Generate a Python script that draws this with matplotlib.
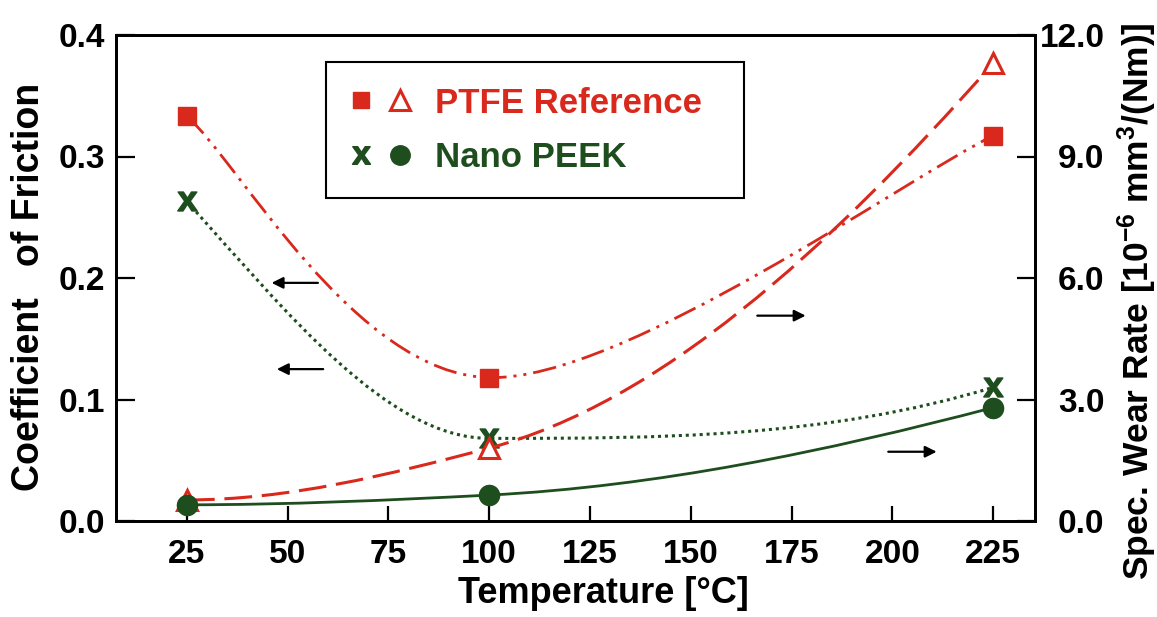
import matplotlib
matplotlib.use("Agg")
import matplotlib.pyplot as plt
from matplotlib.path import Path
from matplotlib.patches import PathPatch
from matplotlib.lines import Line2D
from matplotlib.legend_handler import HandlerTuple

# ---- data -------------------------------------------------------------
temperature = [25, 100, 225]                 # deg C
ptfe_friction = [0.333, 0.118, 0.317]        # coefficient of friction
ptfe_wear = [0.52, 1.80, 11.3]               # 1e-6 mm^3/(Nm)
peek_friction = [0.263, 0.068, 0.110]
peek_wear = [0.40, 0.64, 2.80]

temp_ticks = [25, 50, 75, 100, 125, 150, 175, 200, 225]
friction_ticks = [0.0, 0.1, 0.2, 0.3, 0.4]
friction_labels = ["0.0", "0.1", "0.2", "0.3", "0.4"]
wear_ticks = [0, 3, 6, 9, 12]
wear_labels = ["0.0", "3.0", "6.0", "9.0", "12.0"]

legend_labels = ["PTFE Reference", "Nano PEEK"]

RED = "#d9291c"
GREEN = "#1e4d1e"

plt.rcParams["font.family"] = ["Liberation Sans", "DejaVu Sans"]
plt.rcParams["font.weight"] = "bold"
plt.rcParams["mathtext.fontset"] = "custom"
plt.rcParams["mathtext.rm"] = "Liberation Sans:bold"
plt.rcParams["mathtext.it"] = "Liberation Sans:bold"
plt.rcParams["mathtext.bf"] = "Liberation Sans:bold"
plt.rcParams["mathtext.default"] = "regular"


def catmull_path(xs, ys, k=1.0 / 6.0):
    """Cubic Bezier through the points, tangents from neighbouring points."""
    pts = list(zip(xs, ys))
    n = len(pts)
    verts, codes = [pts[0]], [Path.MOVETO]
    for i in range(n - 1):
        p0 = pts[i - 1] if i > 0 else pts[i]
        p1, p2 = pts[i], pts[i + 1]
        p3 = pts[i + 2] if i + 2 < n else pts[i + 1]
        c1 = (p1[0] + k * (p2[0] - p0[0]), p1[1] + k * (p2[1] - p0[1]))
        c2 = (p2[0] - k * (p3[0] - p1[0]), p2[1] - k * (p3[1] - p1[1]))
        verts += [c1, c2, p2]
        codes += [Path.CURVE4] * 3
    return Path(verts, codes)


def _sign(v):
    return (v > 0) - (v < 0)


def monotone_path(xs, ys):
    """Shape-preserving (Fritsch-Carlson) cubic drawn as Bezier segments."""
    n = len(xs)
    h = [xs[i + 1] - xs[i] for i in range(n - 1)]
    s = [(ys[i + 1] - ys[i]) / h[i] for i in range(n - 1)]
    d = [0.0] * n
    for i in range(1, n - 1):
        if s[i - 1] * s[i] > 0:
            w1 = 2 * h[i] + h[i - 1]
            w2 = h[i] + 2 * h[i - 1]
            d[i] = (w1 + w2) / (w1 / s[i - 1] + w2 / s[i])

    def end(h0, h1, s0, s1):
        e = ((2 * h0 + h1) * s0 - h0 * s1) / (h0 + h1)
        if _sign(e) != _sign(s0):
            return 0.0
        if _sign(s0) != _sign(s1) and abs(e) > 3 * abs(s0):
            return 3 * s0
        return e

    d[0] = end(h[0], h[1], s[0], s[1])
    d[-1] = end(h[-1], h[-2], s[-1], s[-2])
    verts, codes = [(xs[0], ys[0])], [Path.MOVETO]
    for i in range(n - 1):
        third = h[i] / 3.0
        verts += [(xs[i] + third, ys[i] + d[i] * third),
                  (xs[i + 1] - third, ys[i + 1] - d[i + 1] * third),
                  (xs[i + 1], ys[i + 1])]
        codes += [Path.CURVE4] * 3
    return Path(verts, codes)


def dash(lw, *pts):
    return (0, tuple(p / lw for p in pts))


fig = plt.figure(figsize=(11.57, 6.17), dpi=100)
ax = fig.add_axes([116 / 1157, 96 / 617, 919 / 1157, 486 / 617])
ax2 = ax.twinx()

ax.set_xlim(7.4, 235.4)
ax.set_ylim(0, 0.4)
ax2.set_ylim(0, 12)

# curves
lw_ff = 2.0
ax.add_patch(PathPatch(catmull_path(temperature, ptfe_friction), fill=False,
                       edgecolor=RED, lw=lw_ff,
                       linestyle=dash(lw_ff, 17, 5, 2.2, 5, 2.2, 5), zorder=3))
lw_fw = 2.2
ax2.add_patch(PathPatch(monotone_path(temperature, ptfe_wear), fill=False,
                        edgecolor=RED, lw=lw_fw,
                        linestyle=dash(lw_fw, 20, 7), zorder=3))
lw_pf = 2.2
ax.add_patch(PathPatch(monotone_path(temperature, peek_friction), fill=False,
                       edgecolor=GREEN, lw=lw_pf,
                       linestyle=dash(lw_pf, 2.2, 2.8), zorder=3))
lw_pw = 2.0
ax2.add_patch(PathPatch(monotone_path(temperature, peek_wear), fill=False,
                        edgecolor=GREEN, lw=lw_pw, linestyle="-", zorder=3))

# markers
ax.plot(temperature, ptfe_friction, ls="none", marker="s", ms=13,
        color=RED, zorder=5, clip_on=False)
ax2.plot(temperature, ptfe_wear, ls="none", marker="^", ms=15, mfc="white",
         mec=RED, mew=2.2, zorder=5, clip_on=False)
ax.plot(temperature, peek_friction, ls="none", marker=r"$\mathbf{x}$", ms=14,
        color=GREEN, zorder=5, clip_on=False)
ax2.plot(temperature, peek_wear, ls="none", marker="o", ms=14.5,
         color=GREEN, zorder=5, clip_on=False)

# arrows pointing to the axis each curve belongs to
arrows = [((57.5, 0.196), (46.0, 0.196)),
          ((58.8, 0.125), (47.3, 0.125)),
          ((166.5, 0.169), (178.5, 0.169)),
          ((199.0, 0.057), (211.0, 0.057))]
for start, end in arrows:
    ax.annotate("", xy=end, xytext=start,
                arrowprops=dict(arrowstyle="-|>", color="black", lw=1.6,
                                mutation_scale=17, shrinkA=0, shrinkB=0))

# axes styling
for a in (ax, ax2):
    for s in a.spines.values():
        s.set_linewidth(2.0)

ax.set_xticks(temp_ticks)
ax.set_xticklabels([str(t) for t in temp_ticks])
ax.set_yticks(friction_ticks)
ax.set_yticklabels(friction_labels)
ax.tick_params(axis="x", direction="in", length=11, width=1.6, pad=13,
               labelsize=24, top=False)
ax.tick_params(axis="y", direction="in", length=14, width=1.6, pad=8,
               labelsize=24, right=False)

ax2.set_yticks(wear_ticks)
ax2.set_yticklabels(wear_labels)
ax2.tick_params(axis="y", direction="in", length=13, width=1.6, pad=50,
                labelsize=24)
for lab in ax2.get_yticklabels():
    lab.set_horizontalalignment("right")

ax.set_xlabel("Temperature [°C]", fontsize=26, fontweight="bold", labelpad=4)
ax.xaxis.label.set_x(0.53)
ax.set_ylabel("Coefficient   of Friction", fontsize=27, fontweight="bold",
              labelpad=8)
ax.yaxis.label.set_y(0.482)
ax2.set_ylabel(r"Spec. Wear Rate [10$^{-6}$ mm$^{3}$/(Nm)]", fontsize=25.5,
               fontweight="bold", labelpad=8)
ax2.yaxis.label.set_y(0.452)

# legend
h_sq = Line2D([], [], ls="none", marker="s", ms=12, color=RED)
h_tri = Line2D([], [], ls="none", marker="^", ms=14, mfc="white", mec=RED, mew=2.2)
h_x = Line2D([], [], ls="none", marker=r"$\mathbf{x}$", ms=13, color=GREEN)
h_ci = Line2D([], [], ls="none", marker="o", ms=14, color=GREEN)
leg = ax.legend(handles=[(h_sq, h_tri), (h_x, h_ci)], labels=legend_labels,
                handler_map={tuple: HandlerTuple(ndivide=None, pad=0.5)},
                loc="upper left", bbox_to_anchor=(0.2285, 0.675, 0.4549, 0.269),
                mode="expand", borderaxespad=0, fancybox=False, framealpha=1,
                edgecolor="black", prop={"family": "Liberation Sans",
                                          "weight": "bold", "size": 25},
                handlelength=1.75, handletextpad=0.7, borderpad=0.7,
                labelspacing=0.62)
leg.get_frame().set_linewidth(1.5)
for txt, c in zip(leg.get_texts(), [RED, GREEN]):
    txt.set_color(c)

fig.savefig("out.png", dpi=100)
